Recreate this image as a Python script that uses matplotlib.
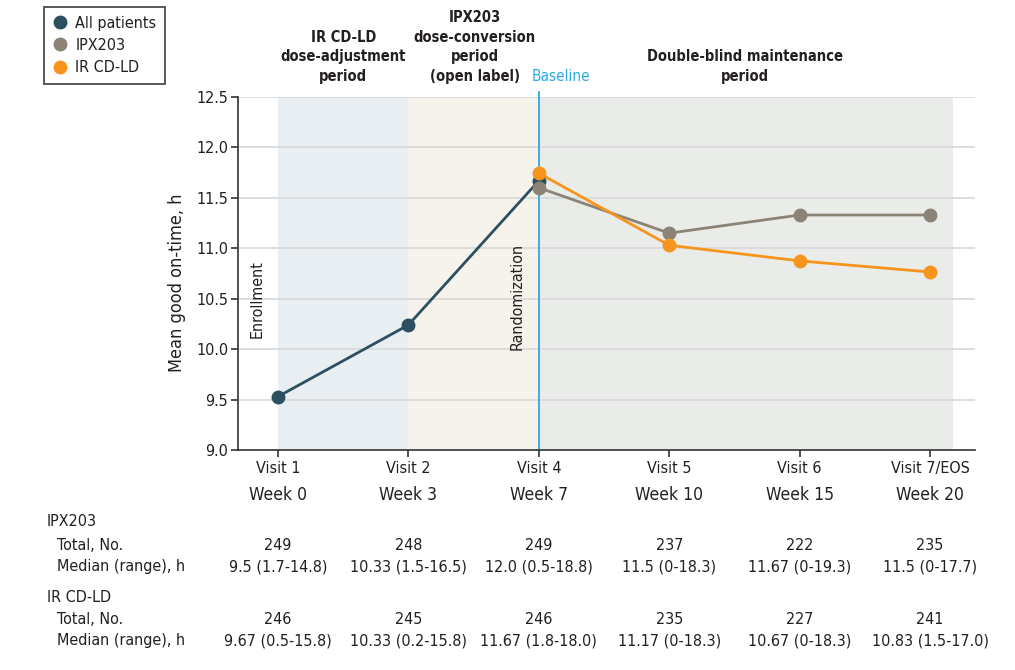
import matplotlib
matplotlib.use("Agg")
import matplotlib.pyplot as plt
from matplotlib import transforms
from matplotlib.lines import Line2D

plt.rcParams['font.family'] = ['DejaVu Sans']
plt.rcParams['font.stretch'] = 'condensed'

# ---- data ----
visits = ["Visit 1", "Visit 2", "Visit 4", "Visit 5", "Visit 6", "Visit 7/EOS"]
weeks = ["Week 0", "Week 3", "Week 7", "Week 10", "Week 15", "Week 20"]

all_patients = [9.53, 10.24, 11.67]          # visits 1, 2, 4
ipx203 = [11.60, 11.15, 11.33, 11.33]        # visits 4, 5, 6, 7
ir_cdld = [11.745, 11.03, 10.875, 10.765]    # visits 4, 5, 6, 7

ipx_total = ["249", "248", "249", "237", "222", "235"]
ipx_median = ["9.5 (1.7-14.8)", "10.33 (1.5-16.5)", "12.0 (0.5-18.8)",
              "11.5 (0-18.3)", "11.67 (0-19.3)", "11.5 (0-17.7)"]
ir_total = ["246", "245", "246", "235", "227", "241"]
ir_median = ["9.67 (0.5-15.8)", "10.33 (0.2-15.8)", "11.67 (1.8-18.0)",
             "11.17 (0-18.3)", "10.67 (0-18.3)", "10.83 (1.5-17.0)"]

# ---- styles ----
C_ALL = "#2c5060"
C_IPX = "#8c8377"
C_IR = "#f7941d"
C_BASE = "#29abe2"
TXT = "#231f20"

W, H = 1015, 670
fig = plt.figure(figsize=(W / 100, H / 100), dpi=100)
ax = fig.add_axes([238 / W, 1 - 450 / H, (975 - 238) / W, (450 - 97) / H])

x = list(range(len(visits)))
ax.set_xlim(-0.307, 5.345)
ax.set_ylim(9.0, 12.5)

# study-period shading
ax.axvspan(0, 1, color="#e8eef2", zorder=0, lw=0)
ax.axvspan(1, 2, color="#f6f3ec", zorder=0, lw=0)
ax.axvspan(2, 5.176, color="#e9ece8", zorder=0, lw=0)

yt = [9.0, 9.5, 10.0, 10.5, 11.0, 11.5, 12.0, 12.5]
ax.set_yticks(yt)
ax.set_yticklabels([f"{v:.1f}" for v in yt], fontsize=11.5, color=TXT)
for v in yt[1:]:
    ax.axhline(v, color="#d8d8d8", lw=1.2, zorder=1)

ax.set_xticks(x)
ax.set_xticklabels(visits, fontsize=11.5, color=TXT)
ax.tick_params(axis="both", direction="out", length=5, width=1.2, color="#333333")
ax.tick_params(axis="x", pad=3)
ax.tick_params(axis="y", pad=2)
for s in ["top", "right"]:
    ax.spines[s].set_visible(False)
for s in ["left", "bottom"]:
    ax.spines[s].set_color("#333333")
    ax.spines[s].set_linewidth(1.2)

# baseline marker line
ax.plot([2, 2], [9.0, 12.55], color=C_BASE, lw=1.3, zorder=2, clip_on=False)

ax.plot(x[:3], all_patients, color=C_ALL, lw=2, marker="o", ms=9, zorder=3)
ax.plot(x[2:], ipx203, color=C_IPX, lw=2, marker="o", ms=9, zorder=4)
ax.plot(x[2:], ir_cdld, color=C_IR, lw=2, marker="o", ms=9, zorder=5)

ax.set_ylabel("Mean good on-time, h", fontsize=13, color=TXT)
ax.yaxis.set_label_coords(-0.0705, 0.473)

ax.text(-0.16, 10.5, "Enrollment", rotation=90, ha="center", va="center",
        fontsize=11.5, color=TXT, zorder=6)
ax.text(1.833, 10.52, "Randomization", rotation=90, ha="center", va="center",
        fontsize=11.5, color=TXT, zorder=6)

# period headings above the plot
def fy(px):
    return 1 - px / H

tr = transforms.blended_transform_factory(ax.transData, fig.transFigure)
head = dict(transform=tr, ha="center", va="bottom", fontsize=10.5,
            fontweight="bold", color=TXT, linespacing=1.38)
ax.text(0.5, fy(84), "IR CD-LD\ndose-adjustment\nperiod", **head)
ax.text(1.51, fy(84), "IPX203\ndose-conversion\nperiod\n(open label)", **head)
ax.text(3.58, fy(84), "Double-blind maintenance\nperiod", **head)
ax.text(1.948, fy(84), "Baseline", transform=tr, ha="left", va="bottom",
        fontsize=11, color=C_BASE)

# week row under visit labels
for xi, w in zip(x, weeks):
    ax.text(xi, fy(495), w, transform=tr, ha="center", va="center",
            fontsize=12.5, color=TXT)

# patient table
rows = [(521, None, "IPX203", 47),
        (545, ipx_total, "Total, No.", 57),
        (567, ipx_median, "Median (range), h", 57),
        (597, None, "IR CD-LD", 47),
        (620, ir_total, "Total, No.", 57),
        (641, ir_median, "Median (range), h", 57)]
for ypx, vals, label, xpx in rows:
    fig.text(xpx / W, fy(ypx), label, ha="left", va="center", fontsize=11.5, color=TXT)
    if vals:
        for xi, v in zip(x, vals):
            ax.text(xi, fy(ypx), v, transform=tr, ha="center", va="center",
                    fontsize=11.5, color=TXT)

# legend
handles = [Line2D([], [], ls="none", marker="o", ms=9, color=c)
           for c in (C_ALL, C_IPX, C_IR)]
leg = fig.legend(handles, ["All patients", "IPX203", "IR CD-LD"],
                 loc="upper left", bbox_to_anchor=(44 / W, fy(7)),
                 fontsize=11.5, frameon=True, fancybox=False, handlelength=0.9,
                 handletextpad=0.5, borderpad=0.55, labelspacing=0.45,
                 borderaxespad=0)
leg.get_frame().set_edgecolor("#231f20")
leg.get_frame().set_linewidth(1.3)
for t in leg.get_texts():
    t.set_color(TXT)

fig.savefig("out.png", dpi=100)
